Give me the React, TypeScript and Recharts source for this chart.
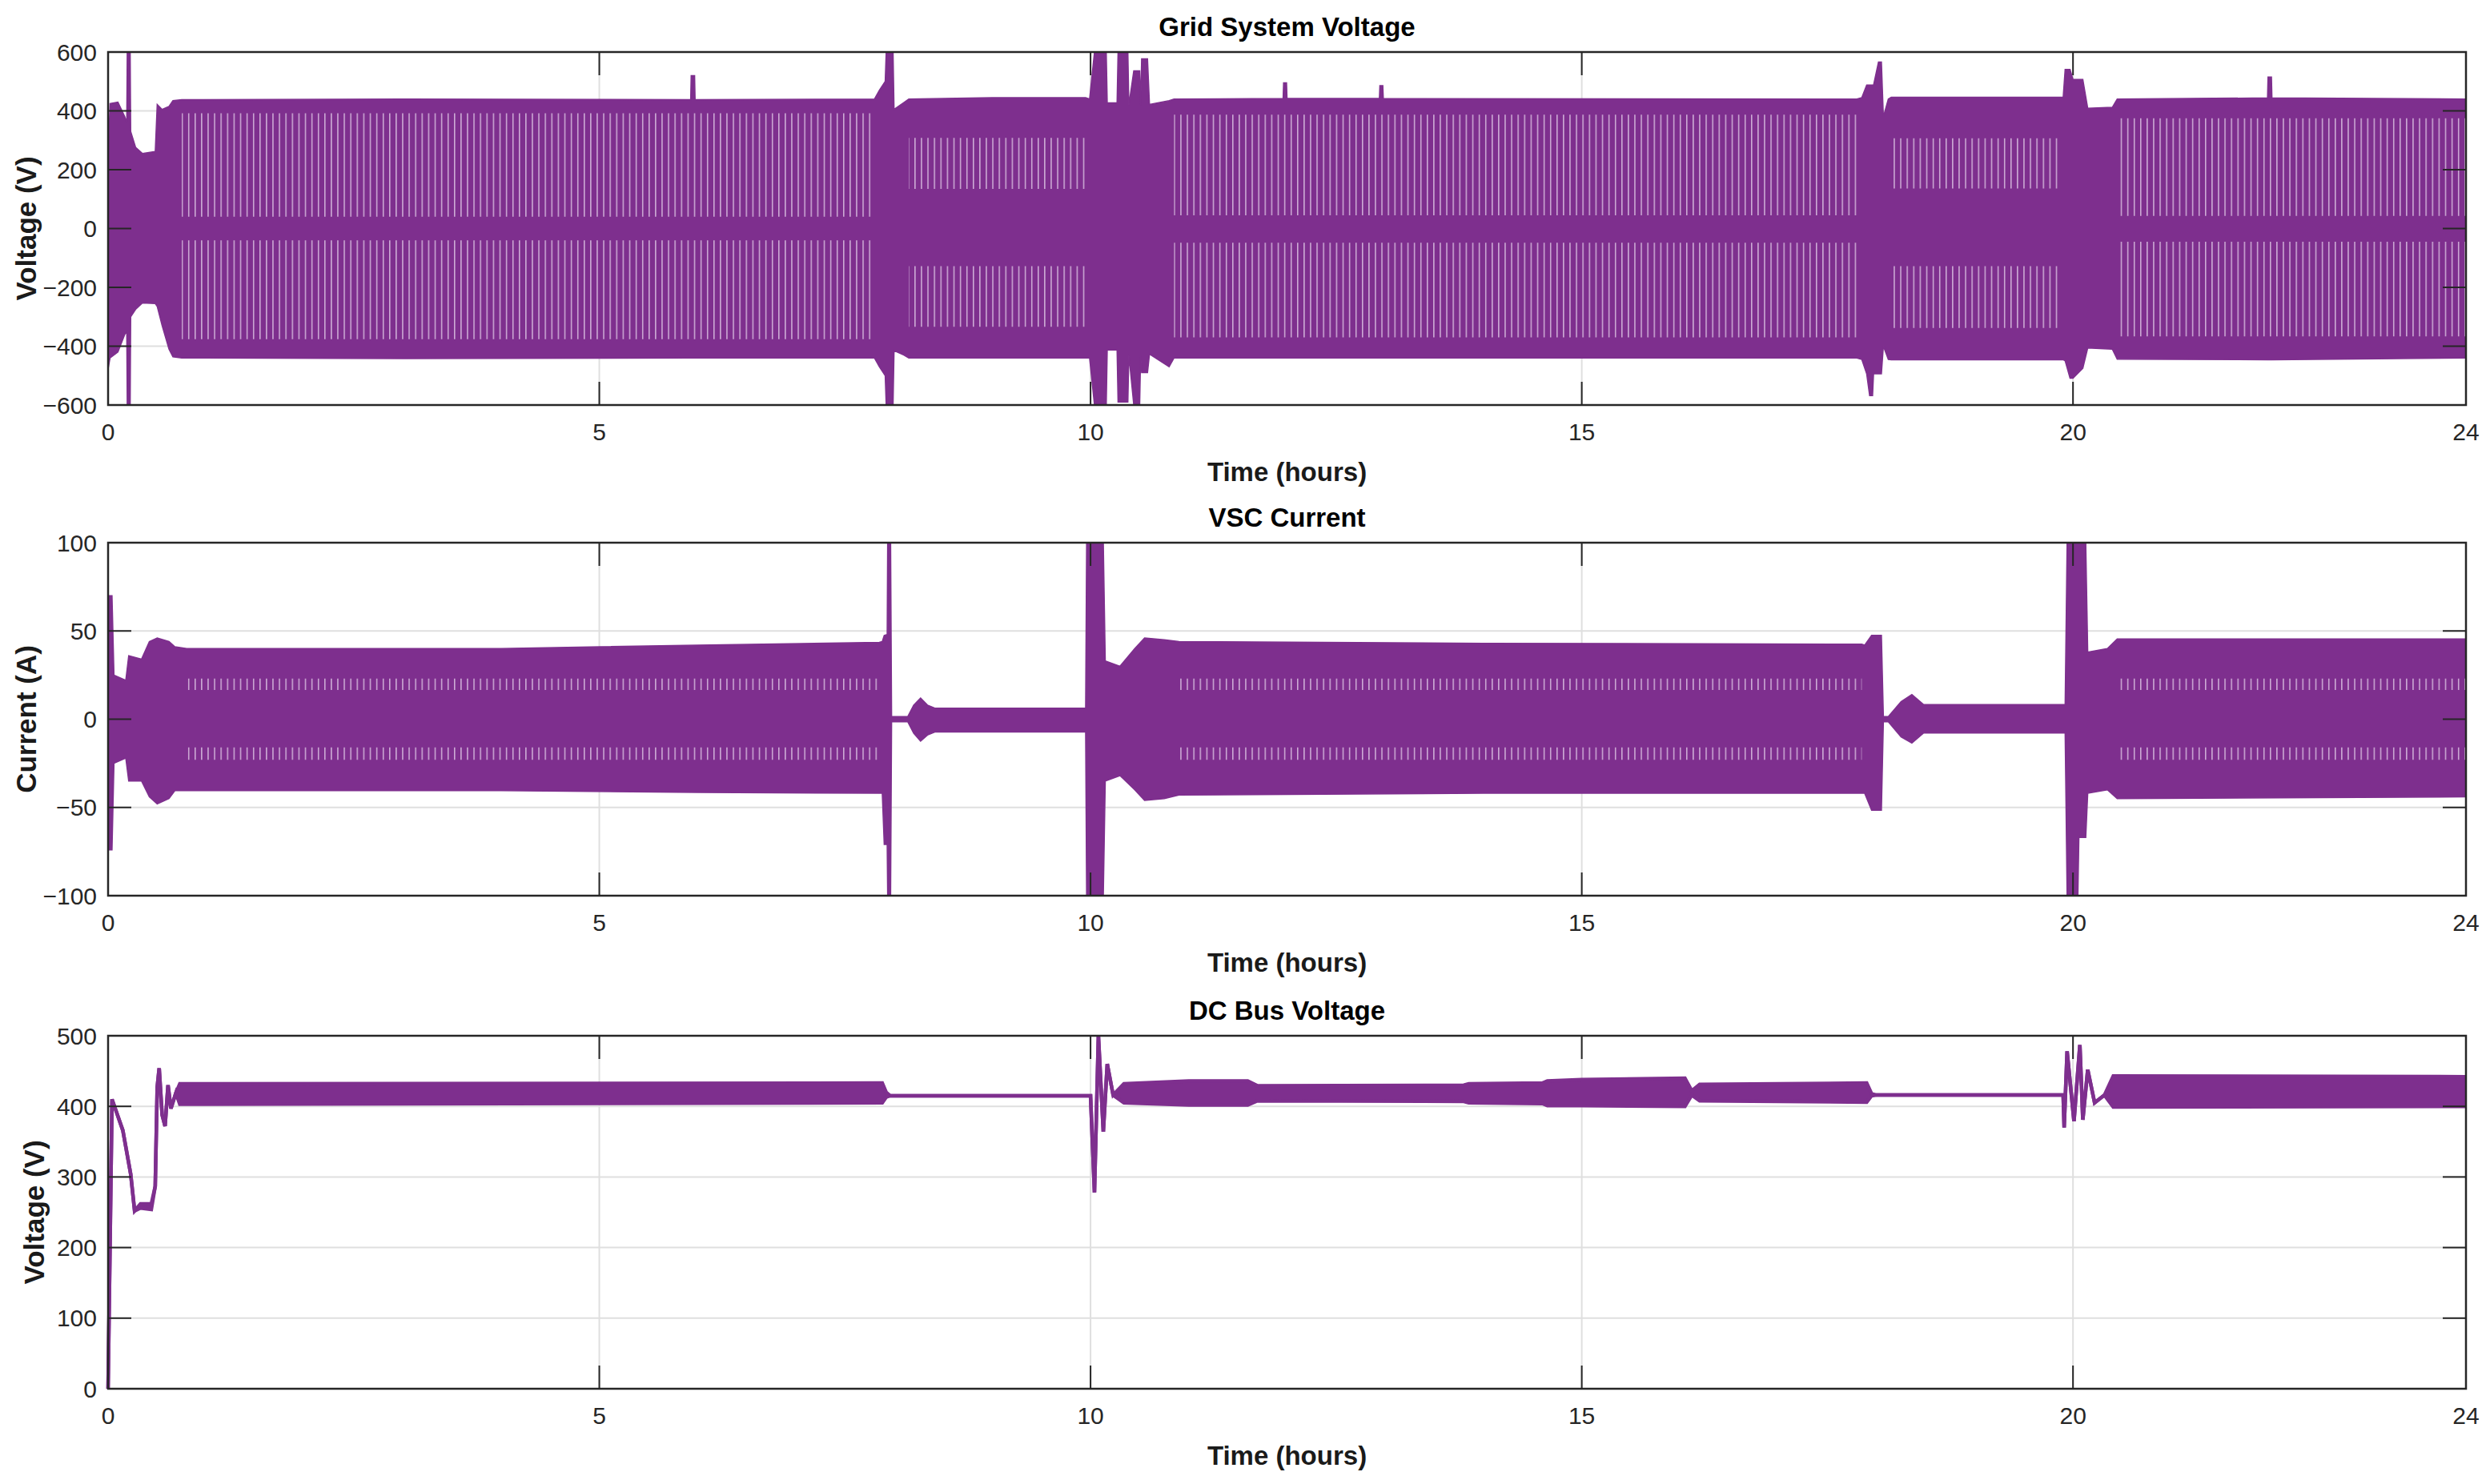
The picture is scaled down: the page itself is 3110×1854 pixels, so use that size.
import React from 'react';
import { ComposedChart, Area, XAxis, YAxis, CartesianGrid, ReferenceArea } from 'recharts';

// ---- Grid System Voltage (V): envelope of the ac waveform ----
const gridT = [
  0, 0.02, 0.1, 0.17, 0.19, 0.195, 0.225, 0.23, 0.28, 0.35,
  0.48, 0.5, 0.55, 0.62, 0.66, 0.75, 3, 5.93, 5.935, 5.97,
  5.975, 7.8, 7.85, 7.91, 7.92, 7.99, 8, 8.1, 8.15, 9,
  9.95, 9.99, 10.04, 10.16, 10.17, 10.27, 10.28, 10.38, 10.39, 10.44,
  10.5, 10.51, 10.52, 10.58, 10.6, 10.8, 10.85, 11.96, 11.965, 11.995,
  12, 12.94, 12.945, 12.975, 12.98, 17.8, 17.85, 17.9, 17.93, 17.96,
  17.97, 18.02, 18.05, 18.07, 18.12, 18.15, 19.88, 19.9, 19.92, 19.97,
  20, 20.1, 20.15, 20.4, 20.45, 21.98, 21.985, 22.02, 22.025, 24,
];
const gridHi = [
  244, 425, 430, 380, 360, 600, 600, 330, 276, 255,
  262, 422, 405, 415, 435, 438, 440, 438, 520, 520,
  438, 440, 470, 500, 600, 600, 405, 428, 440, 445,
  445, 440, 600, 600, 427, 427, 600, 600, 420, 536,
  536, 420, 577, 577, 422, 435, 440, 442, 495, 495,
  442, 442, 486, 486, 442, 440, 445, 488, 488, 488,
  488, 566, 566, 380, 440, 446, 446, 446, 541, 541,
  507, 507, 409, 412, 440, 444, 515, 515, 444, 440,
];
const gridLo = [
  -478, -440, -420, -360, -350, -600, -600, -300, -275, -253,
  -255, -265, -330, -410, -436, -440, -442, -440, -440, -440,
  -440, -440, -470, -500, -600, -600, -415, -430, -440, -440,
  -440, -440, -600, -600, -413, -413, -590, -590, -430, -600,
  -600, -430, -490, -490, -427, -470, -440, -440, -440, -440,
  -440, -440, -440, -440, -440, -440, -445, -494, -568, -568,
  -494, -494, -494, -400, -445, -446, -446, -446, -450, -509,
  -509, -475, -406, -410, -444, -446, -446, -446, -446, -440,
];
// light aliasing stripes inside the band (steady segments only)
const gridStripeFrom = [0.75, 8.15, 10.85, 18.15, 20.45];
const gridStripeTo = [7.8, 9.95, 17.8, 19.88, 24];
const gridStripeUpIn = [40, 135, 45, 136, 43];
const gridStripeUpOut = [392, 308, 387, 307, 375];
const gridStripeDnIn = [-40, -128, -48, -128, -45];
const gridStripeDnOut = [-376, -334, -370, -338, -367];

// ---- VSC Current (A) ----
const currT = [
  0, 0.04, 0.06, 0.18, 0.21, 0.34, 0.42, 0.5, 0.62, 0.68,
  0.8, 4, 6, 7.85, 7.88, 7.9, 7.93, 7.935, 7.965, 7.975,
  8.14, 8.2, 8.27, 8.34, 8.42, 9.95, 9.96, 10.13, 10.15, 10.3,
  10.45, 10.55, 10.75, 10.9, 14, 17.85, 17.88, 17.95, 18.05, 18.07,
  18.12, 18.25, 18.36, 18.48, 19.92, 19.94, 20.05, 20.06, 20.13, 20.15,
  20.35, 20.45, 24,
];
const currHi = [
  70, 70, 25, 22, 36, 34, 44, 46, 44, 41,
  40, 40, 42, 43.5, 44, 47.5, 48, 100, 100, 1.5,
  1.5, 8, 12, 8, 6.2, 6.2, 100, 100, 33, 30,
  40, 46, 45, 44, 43, 42.5, 42, 47.5, 47.5, 1.5,
  1.5, 10, 14, 8.3, 8.3, 100, 100, 100, 100, 38,
  40, 45.5, 45.5,
];
const currLo = [
  -74, -74, -25, -22, -35, -35, -44, -48, -45, -40.5,
  -40.5, -40.5, -41.5, -42, -42, -71, -71, -100, -100, -1.5,
  -1.5, -8, -12.4, -9, -7.2, -7.2, -100, -100, -35, -32,
  -40, -46, -45, -43, -42, -42, -42, -51.6, -51.6, -1.5,
  -1.5, -10, -13.5, -7.8, -7.8, -100, -100, -67, -67, -42,
  -40, -45, -44,
];
const currStripeFrom = [0.8, 10.9, 20.45];
const currStripeTo = [7.85, 17.85, 24];
const currStripeUpIn = [16.5, 16.5, 16.5];
const currStripeUpOut = [23, 23, 23];
const currStripeDnIn = [-16, -16, -16];
const currStripeDnOut = [-23, -23, -23];

// ---- DC Bus Voltage (V) ----
const busT = [
  0, 0.04, 0.15, 0.23, 0.27, 0.33, 0.44, 0.48, 0.5, 0.52,
  0.55, 0.58, 0.61, 0.64, 0.69, 0.73, 7.88, 7.92, 7.96, 10,
  10.04, 10.08, 10.13, 10.17, 10.23, 10.34, 11, 11.6, 11.7, 13.8,
  13.85, 14.6, 14.65, 15, 16.05, 16.12, 16.2, 17.9, 17.95, 18,
  19.9, 19.91, 19.94, 20.01, 20.07, 20.1, 20.15, 20.22, 20.32, 20.41,
  24,
];
const busHi = [
  0, 410, 366, 304, 252, 262, 262, 287, 427, 454,
  388, 372, 430, 397, 419, 432, 433, 420, 415, 415,
  278, 500, 364, 460, 416, 432, 436, 436, 429, 430,
  432, 433, 436, 438, 440, 422, 431, 433, 418, 416,
  416, 370, 478, 379, 487, 381, 452, 405, 416, 443,
  442,
];
const busLo = [
  0, 410, 366, 304, 252, 256, 254, 287, 427, 454,
  388, 372, 430, 397, 419, 403, 405, 413, 415, 415,
  278, 500, 364, 460, 416, 405, 402, 402, 408, 407,
  405, 404, 401, 401, 400, 416, 408, 406, 415, 416,
  416, 370, 478, 379, 487, 381, 452, 405, 416, 399,
  400,
];

const xTicks = [0, 5, 10, 15, 20, 24];
const gridTicks = [-600, -400, -200, 0, 200, 400, 600];
const currTicks = [-100, -50, 0, 50, 100];
const busTicks = [0, 100, 200, 300, 400, 500];

const PURPLE = '#7E2F8E';
const AXIS = '#262626';
const GRID = '#dfdfdf';
const FONT = '"Liberation Sans", Arial, Helvetica, sans-serif';

const W = 3110;
const CH = 614;
const MT = 65;
const LEFT = 135;
const RIGHT = 30;
const PLOT_W = W - LEFT - RIGHT;
const PLOT_H = 441;
const TICK = 29;

type Stripes = { from: number[]; to: number[]; upIn: number[]; upOut: number[]; dnIn: number[]; dnOut: number[] };

function buildRows(t: number[], hi: number[], lo: number[], s?: Stripes) {
  return t.map((time, i) => {
    const row: any = { t: time, band: [lo[i], hi[i]], up: null, dn: null };
    if (s) {
      const k = s.from.findIndex((f, j) => time >= f - 1e-9 && time <= s.to[j] + 1e-9);
      if (k >= 0) {
        row.up = [s.upIn[k], s.upOut[k]];
        row.dn = [s.dnOut[k], s.dnIn[k]];
      }
    }
    return row;
  });
}

const fmt = (v: number) => (v < 0 ? '\u2212' + Math.abs(v) : String(v));

function XTick(props: any) {
  const { x, y, payload } = props;
  const yb = y - 23;
  const yt = yb - PLOT_H;
  const edge = payload.value === 0 || payload.value === 24;
  return (
    <g>
      {!edge && <line x1={x} x2={x} y1={yb} y2={yb - TICK} stroke={AXIS} strokeWidth={2} />}
      {!edge && <line x1={x} x2={x} y1={yt} y2={yt + TICK} stroke={AXIS} strokeWidth={2} />}
      <text x={x} y={y} dy="0.71em" textAnchor="middle" fontSize={30} fill={AXIS} fontFamily={FONT}>
        {fmt(payload.value)}
      </text>
    </g>
  );
}

function YTick(props: any) {
  const { x, y, payload, lo, hi } = props;
  const xl = x + 14;
  const xr = xl + PLOT_W;
  const edge = payload.value === lo || payload.value === hi;
  return (
    <g>
      {!edge && <line x1={xl} x2={xl + TICK} y1={y} y2={y} stroke={AXIS} strokeWidth={2} />}
      {!edge && <line x1={xr - TICK} x2={xr} y1={y} y2={y} stroke={AXIS} strokeWidth={2} />}
      <text x={x} y={y} dy="0.355em" textAnchor="end" fontSize={30} fill={AXIS} fontFamily={FONT}>
        {fmt(payload.value)}
      </text>
    </g>
  );
}

type PanelProps = {
  top: number;
  title: string;
  yLabel: string;
  yLabelOffset: number;
  domain: [number, number];
  ticks: number[];
  rows: any[];
  lineWidth: number;
  striped: boolean;
};

function Panel({ top, title, yLabel, yLabelOffset, domain, ticks, rows, lineWidth, striped }: PanelProps) {
  return (
    <div style={{ position: 'absolute', left: 0, top, width: W, height: CH }}>
      <div
        style={{
          position: 'absolute',
          left: LEFT,
          width: PLOT_W,
          top: MT - 48,
          textAlign: 'center',
          fontSize: 33,
          lineHeight: '33px',
          fontWeight: 'bold',
          color: '#000',
          fontFamily: FONT,
        }}
      >
        {title}
      </div>
      <ComposedChart width={W} height={CH} data={rows} margin={{ top: MT, right: RIGHT, bottom: 0, left: 0 }}>
        <CartesianGrid stroke={GRID} strokeWidth={2} />
        <XAxis
          type="number"
          dataKey="t"
          domain={[0, 24]}
          ticks={xTicks}
          interval={0}
          height={108}
          tickSize={0}
          tickMargin={23}
          axisLine={false}
          tickLine={false}
          tick={(p: any) => <XTick {...p} />}
          label={{
            value: 'Time (hours)',
            position: 'insideBottom',
            offset: 13,
            fontSize: 33,
            fontWeight: 'bold',
            fill: '#1a1a1a',
            fontFamily: FONT,
          }}
        />
        <YAxis
          type="number"
          domain={domain}
          ticks={ticks}
          interval={0}
          width={LEFT}
          tickSize={0}
          tickMargin={14}
          axisLine={false}
          tickLine={false}
          allowDataOverflow
          tick={(p: any) => <YTick {...p} lo={domain[0]} hi={domain[1]} />}
          label={{
            value: yLabel,
            angle: -90,
            position: 'insideLeft',
            offset: yLabelOffset,
            style: { textAnchor: 'middle' },
            fontSize: 35,
            fontWeight: 'bold',
            fill: '#1a1a1a',
            fontFamily: FONT,
          }}
        />
        <Area
          dataKey="band"
          type="linear"
          fill={PURPLE}
          fillOpacity={1}
          stroke={PURPLE}
          strokeWidth={lineWidth}
          dot={false}
          activeDot={false}
          isAnimationActive={false}
        />
        {striped && (
          <Area
            dataKey="up"
            type="linear"
            fill="url(#aliasStripes)"
            fillOpacity={1}
            stroke="none"
            dot={false}
            activeDot={false}
            isAnimationActive={false}
          />
        )}
        {striped && (
          <Area
            dataKey="dn"
            type="linear"
            fill="url(#aliasStripes)"
            fillOpacity={1}
            stroke="none"
            dot={false}
            activeDot={false}
            isAnimationActive={false}
          />
        )}
        <ReferenceArea x1={0} x2={24} y1={domain[0]} y2={domain[1]} fill="none" fillOpacity={0} stroke={AXIS} strokeWidth={2.5} />
      </ComposedChart>
    </div>
  );
}

const gridRows = buildRows(gridT, gridHi, gridLo, {
  from: gridStripeFrom,
  to: gridStripeTo,
  upIn: gridStripeUpIn,
  upOut: gridStripeUpOut,
  dnIn: gridStripeDnIn,
  dnOut: gridStripeDnOut,
});
const currRows = buildRows(currT, currHi, currLo, {
  from: currStripeFrom,
  to: currStripeTo,
  upIn: currStripeUpIn,
  upOut: currStripeUpOut,
  dnIn: currStripeDnIn,
  dnOut: currStripeDnOut,
});
const busRows = buildRows(busT, busHi, busLo);

export default function App() {
  return (
    <div style={{ position: 'absolute', left: 0, top: 0, width: W, height: 1854, background: '#fff', fontFamily: FONT }}>
      <svg width={0} height={0} style={{ position: 'absolute' }}>
        <defs>
          <pattern id="aliasStripes" patternUnits="userSpaceOnUse" width={8.1} height={40}>
            <rect x={0} y={0} width={1.5} height={40} fill="#cfaed7" />
          </pattern>
        </defs>
      </svg>
      <Panel
        top={0}
        title="Grid System Voltage"
        yLabel="Voltage (V)"
        yLabelOffset={33}
        domain={[-600, 600]}
        ticks={gridTicks}
        rows={gridRows}
        lineWidth={1.5}
        striped
      />
      <Panel
        top={613}
        title="VSC Current"
        yLabel="Current (A)"
        yLabelOffset={33}
        domain={[-100, 100]}
        ticks={currTicks}
        rows={currRows}
        lineWidth={1.5}
        striped
      />
      <Panel
        top={1229}
        title="DC Bus Voltage"
        yLabel="Voltage (V)"
        yLabelOffset={43}
        domain={[0, 500]}
        ticks={busTicks}
        rows={busRows}
        lineWidth={4.5}
        striped={false}
      />
    </div>
  );
}
